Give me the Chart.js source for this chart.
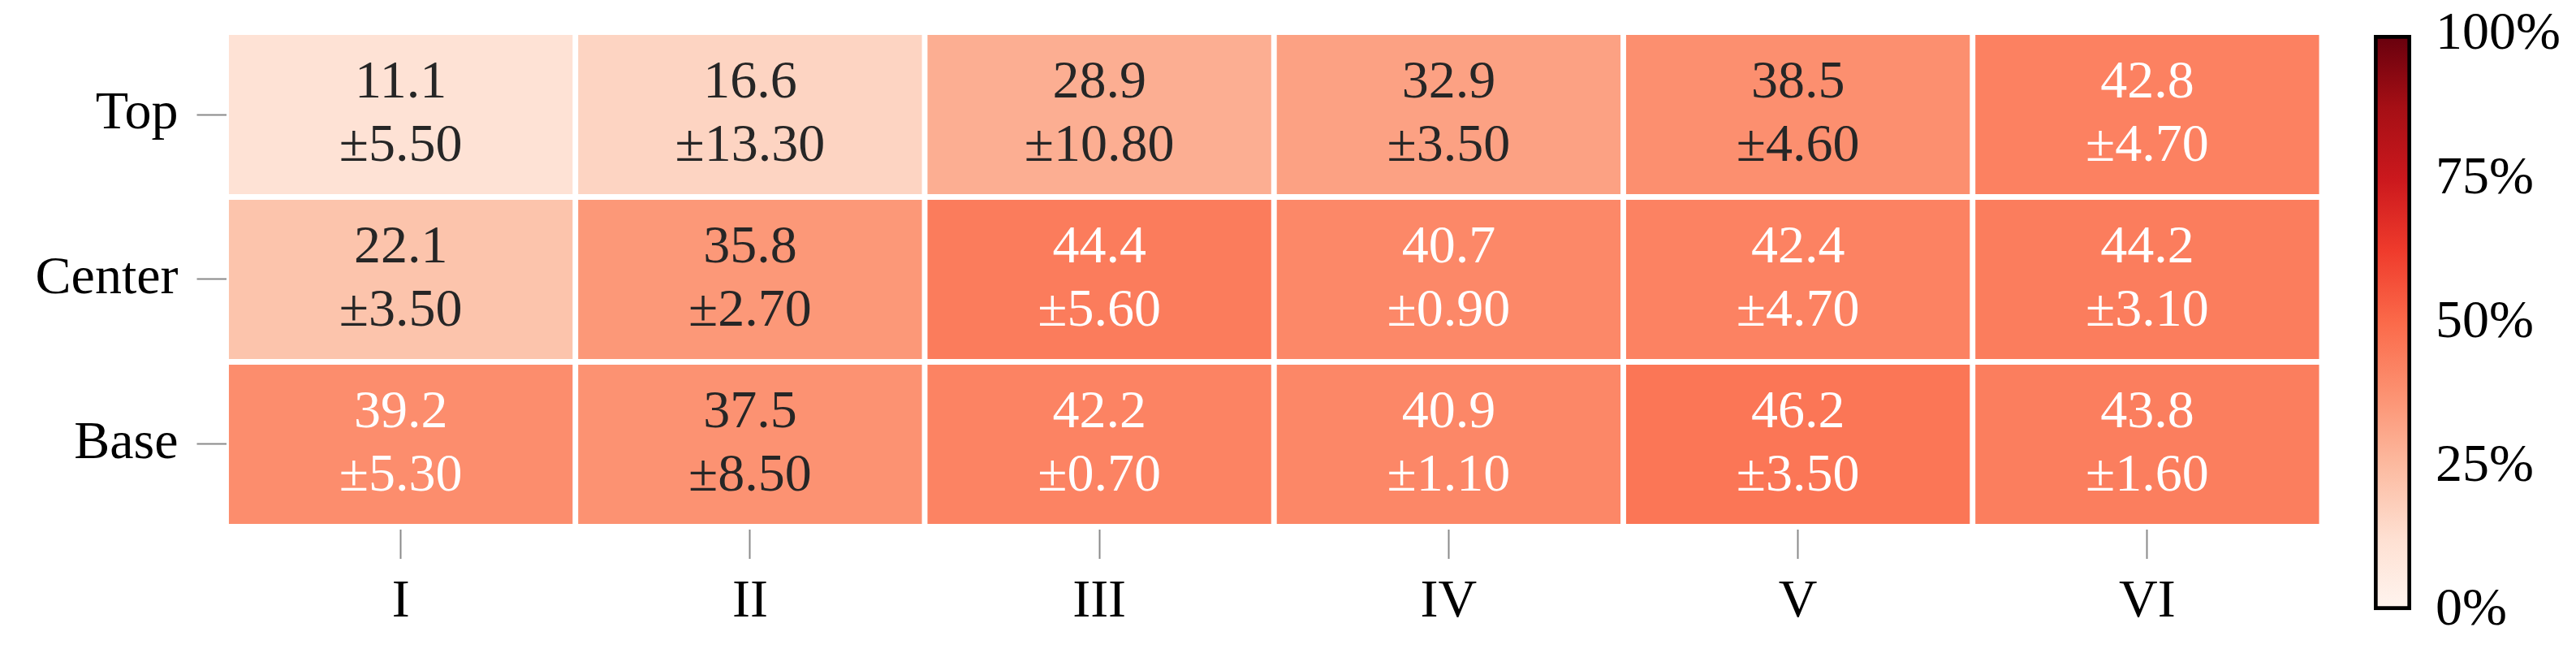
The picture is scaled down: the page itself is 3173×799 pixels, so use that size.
<!DOCTYPE html>
<html>
<head>
<meta charset="utf-8">
<script src="https://cdn.jsdelivr.net/npm/chart.js@4"></script>
<style>
  html, body { margin:0; padding:0; background:#fff; }
  body { width:3173px; height:799px; position:relative; overflow:hidden; }
  .box { position:absolute; top:0; height:799px; }
  #main-box { left:0; width:2900px; }
  #bar-box { left:2924px; width:249px; }
</style>
</head>
<body>
<div class="box" id="main-box"><canvas id="heat"></canvas></div>
<div class="box" id="bar-box"><canvas id="cbar"></canvas></div>
<script>
// categories
const rows = ['Top', 'Center', 'Base'];
const cols = ['I', 'II', 'III', 'IV', 'V', 'VI'];

// mean values (%)
const meanTop    = [11.1, 16.6, 28.9, 32.9, 38.5, 42.8];
const meanCenter = [22.1, 35.8, 44.4, 40.7, 42.4, 44.2];
const meanBase   = [39.2, 37.5, 42.2, 40.9, 46.2, 43.8];

// std dev
const stdTop    = [5.5, 13.3, 10.8, 3.5, 4.6, 4.7];
const stdCenter = [3.5, 2.7, 5.6, 0.9, 4.7, 3.1];
const stdBase   = [5.3, 8.5, 0.7, 1.1, 3.5, 1.6];

// colour bar ticks
const barTicks = [0, 25, 50, 75, 100];

const means = [meanTop, meanCenter, meanBase];
const stds = [stdTop, stdCenter, stdBase];

// Reds colormap
const reds = ['#fff5f0','#fee0d2','#fcbba1','#fc9272','#fb6a4a','#ef3b2c','#cb181d','#a50f15','#67000d'];

function hex2rgb(h){ return [1,3,5].map(i => parseInt(h.slice(i, i+2), 16)); }
function redsAt(v){
    const t = Math.max(0, Math.min(1, v / 100)) * (reds.length - 1);
    const i = Math.min(Math.floor(t), reds.length - 2);
    const f = t - i;
    const a = hex2rgb(reds[i]), b = hex2rgb(reds[i+1]);
    const c = a.map((x, k) => Math.round(x + (b[k] - x) * f));
    return `rgb(${c[0]},${c[1]},${c[2]})`;
}

const FONT = "'Liberation Serif', 'DejaVu Serif', serif";
const gapY = 0.0172;   // half gap between rows, in row units
const tickGrey = '#8a8a8a';

// no extra room for edge labels
function noPad(s){ s.paddingTop = 0; s.paddingBottom = 0; s.paddingLeft = 0; s.paddingRight = 0; }

// text inside cells
const cellText = {
    id: 'cellText',
    afterDatasetsDraw(chart){
        const c = chart.ctx;
        c.save();
        c.font = `66px ${FONT}`;
        c.textAlign = 'center';
        c.textBaseline = 'middle';
        chart.data.datasets.forEach((ds, i) => {
            chart.getDatasetMeta(i).data.forEach((el, j) => {
                const m = means[i][j];
                const cy = (el.y + el.base) / 2;
                c.fillStyle = m >= 39 ? '#ffffff' : '#262626';
                c.fillText(m.toFixed(1), el.x, cy - 38);
                c.fillText('\u00b1' + stds[i][j].toFixed(2), el.x, cy + 40);
            });
        });
        c.restore();
    }
};

new Chart(document.getElementById('heat'), {
    type: 'bar',
    data: {
        labels: cols,
        datasets: rows.map((r, i) => ({
            label: r,
            data: means[i].map(() => [i - 0.5 + gapY, i + 0.5 - gapY]),
            backgroundColor: means[i].map(redsAt),
            borderWidth: 0,
            grouped: false,
            barPercentage: 0.984,
            categoryPercentage: 1
        }))
    },
    options: {
        responsive: true,
        maintainAspectRatio: false,
        animation: false,
        layout: { padding: { top: 43, right: 40, left: 0, bottom: 0 } },
        plugins: { legend: { display: false }, tooltip: { enabled: false } },
        scales: {
            x: {
                type: 'category',
                offset: true,
                grid: { offset: false, drawOnChartArea: false, drawTicks: true, tickLength: 36, tickColor: tickGrey, tickWidth: 2 },
                border: { display: false },
                ticks: { color: '#000', font: { family: FONT, size: 66 }, padding: 14, maxRotation: 0 },
                afterFit(s){ s.height = 147; noPad(s); }
            },
            y: {
                type: 'linear',
                reverse: true,
                min: -0.5 + gapY,
                max: 2.5 - gapY + 0.0345,
                afterBuildTicks(s){ s.ticks = rows.map((r, i) => ({ value: i })); },
                grid: { drawOnChartArea: false, drawTicks: true, tickLength: 36, tickColor: tickGrey, tickWidth: 2 },
                border: { display: false },
                ticks: { color: '#000', font: { family: FONT, size: 66 }, padding: 23, callback: v => rows[v] },
                afterFit(s){ s.width = 278.5; noPad(s); }
            }
        }
    },
    plugins: [cellText]
});

// colour bar
new Chart(document.getElementById('cbar'), {
    type: 'bar',
    data: {
        labels: [''],
        datasets: [{
            data: [[barTicks[0], barTicks[barTicks.length - 1]]],
            backgroundColor(ctx){
                const { chart } = ctx;
                const area = chart.chartArea;
                if (!area) { return reds[4]; }
                const g = chart.ctx.createLinearGradient(0, area.bottom, 0, area.top);
                reds.forEach((col, k) => g.addColorStop(k / (reds.length - 1), col));
                return g;
            },
            borderColor: '#000',
            borderWidth: 5,
            borderSkipped: false,
            barPercentage: 1,
            categoryPercentage: 1
        }]
    },
    options: {
        responsive: true,
        maintainAspectRatio: false,
        animation: false,
        layout: { padding: { top: 43, bottom: 47, left: 0, right: 0 } },
        plugins: { legend: { display: false }, tooltip: { enabled: false } },
        scales: {
            x: { display: false },
            y: {
                position: 'right',
                min: 0,
                max: 100,
                z: 1,
                afterBuildTicks(s){ s.ticks = barTicks.map(v => ({ value: v })); },
                grid: {
                    drawTicks: false,
                    lineWidth: 2,
                    color: ctx => (ctx.tick && (ctx.tick.value === 0 || ctx.tick.value === 100)) ? 'rgba(0,0,0,0)' : '#808080'
                },
                border: { display: false },
                ticks: { color: '#000', font: { family: FONT, size: 66 }, padding: 30, callback: v => v + '%' },
                afterFit(s){ s.width = 203; noPad(s); }
            }
        }
    }
});
</script>
</body>
</html>
